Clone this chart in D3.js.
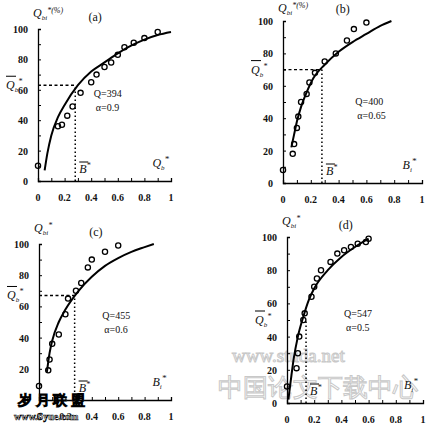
<!DOCTYPE html>
<html><head><meta charset="utf-8">
<script src="https://cdn.jsdelivr.net/npm/d3@7"></script>
<style>body{margin:0;background:#fff}text{font-family:"Liberation Serif",serif;fill:#111}</style>
</head><body>
<svg id="c" width="430" height="425"></svg>
<script>
var xTicks = [0, 0.2, 0.4, 0.6, 0.8, 1];
var xTickLabels = ["0", "0.2", "0.4", "0.6", "0.8", "1"];
var yTicks = [0, 20, 40, 60, 80, 100];

// observed points and fitted curves per panel
var ptsA = [[0,10],[0.15,36],[0.18,37],[0.22,43],[0.26,49],[0.32,58],[0.40,65],[0.44,70],[0.50,75],[0.55,78],[0.60,83],[0.65,88],[0.72,91],[0.80,94],[0.90,98]];
var fitA = [[0.05,7],[0.07,18],[0.1,30],[0.15,42],[0.2,50],[0.3,63],[0.4,72],[0.5,78],[0.6,84],[0.7,89],[0.8,93],[0.9,96],[1.0,98]];
var ptsB = [[0,8],[0.07,18],[0.08,24],[0.1,34],[0.11,41],[0.13,50],[0.17,55],[0.19,62],[0.23,68],[0.3,75],[0.38,80],[0.46,88],[0.51,95],[0.6,99]];
var fitB = [[0.06,22],[0.08,30],[0.1,38],[0.13,47],[0.17,56],[0.22,65],[0.3,73],[0.4,81],[0.5,87],[0.6,92],[0.7,97],[0.78,100]];
var ptsC = [[0,9],[0.07,19],[0.08,26],[0.1,36],[0.15,42],[0.2,55],[0.22,65],[0.28,70],[0.32,75],[0.37,85],[0.4,90],[0.5,95],[0.6,99]];
var fitC = [[0.06,18],[0.08,30],[0.1,38],[0.15,50],[0.2,58],[0.3,70],[0.4,79],[0.5,86],[0.6,91],[0.7,95],[0.8,98],[0.87,100]];
var ptsD = [[0,10],[0.07,21],[0.08,30],[0.09,40],[0.12,50],[0.13,54],[0.18,64],[0.2,70],[0.22,75],[0.25,80],[0.32,85],[0.37,90],[0.42,92],[0.47,94],[0.52,96],[0.58,97],[0.6,99]];
var fitD = [[0.01,2],[0.03,15],[0.05,27],[0.08,40],[0.12,52],[0.16,62],[0.2,69],[0.3,80],[0.4,88],[0.5,94],[0.6,99]];

var panels = [
  {tag:"(a)", x0:38, x1:171, y0:181, y1:29, pts:ptsA, fit:fitA, bx:0.28, qy:63, Q:"394", a:"0.9", xl:"Qb", yl:"Qbi*(%)", hz:true, tx:0.42, ty:55},
  {tag:"(b)", x0:283, x1:422, y0:183, y1:21, pts:ptsB, fit:fitB, bx:0.28, qy:70, Q:"400", a:"0.65", xl:"Bi", yl:"Qbi*(%)", hz:true, tx:0.52, ty:48},
  {tag:"(c)", x0:39, x1:171, y0:400, y1:244, pts:ptsC, fit:fitC, bx:0.27, qy:67, Q:"455", a:"0.6", xl:"Bi", yl:"Qbi*", hz:true, tx:0.48, ty:52},
  {tag:"(d)", x0:287, x1:423, y0:403, y1:237, pts:ptsD, fit:fitD, bx:0.14, qy:50, Q:"547", a:"0.5", xl:"Bi", yl:"Qbi*", hz:false, tx:0.42, ty:52}
];

var svg = d3.select("#c");

// watermarks
svg.append("text").attr("x", 232).attr("y", 362).attr("font-size", 19).attr("font-family", "DejaVu Sans Mono")
  .style("fill", "none").style("stroke", "#c8c8c8").attr("stroke-width", 1).text("www.studa.net");
svg.append("text").attr("x", 218).attr("y", 396).attr("font-size", 25).attr("font-family", "Noto Sans CJK SC")
  .style("fill", "none").style("stroke", "#c8c8c8").attr("stroke-width", 1).text("中国论文下载中心");

panels.forEach(function(p) {
  var x = d3.scaleLinear().domain([0, 1]).range([p.x0, p.x1]);
  var y = d3.scaleLinear().domain([0, 100]).range([p.y0, p.y1]);
  var g = svg.append("g");

  g.append("g").attr("transform", "translate(0," + p.y0 + ")")
    .call(d3.axisBottom(x).tickValues(d3.range(0, 1.01, 0.1)).tickSize(-3).tickFormat(""))
    .call(function(a){ a.select(".domain").attr("stroke-width", 1.3); });
  g.append("g").attr("transform", "translate(" + p.x0 + ",0)")
    .call(d3.axisLeft(y).tickValues(d3.range(0, 101, 10)).tickSize(-3).tickFormat(""))
    .call(function(a){ a.select(".domain").attr("stroke-width", 1.3); });

  g.selectAll(".xl").data(xTicks).enter().append("text")
    .attr("x", function(d){ return x(d); }).attr("y", p.y0 + 20)
    .attr("text-anchor", "middle").attr("font-size", 10).attr("font-weight", "bold")
    .text(function(d, i){ return xTickLabels[i]; });
  g.selectAll(".yl").data(yTicks).enter().append("text")
    .attr("x", p.x0 - 10).attr("y", function(d){ return y(d) + 4; })
    .attr("text-anchor", "end").attr("font-size", 10).attr("font-weight", "bold")
    .text(function(d){ return d; });

  // guide lines
  g.append("line").attr("x1", x(p.bx)).attr("x2", x(p.bx)).attr("y1", p.y0).attr("y2", y(p.qy))
    .attr("stroke", "#000").attr("stroke-width", 1.5).attr("stroke-dasharray", "1.5,2.5");
  if (p.hz) g.append("line").attr("x1", p.x0).attr("x2", x(p.bx)).attr("y1", y(p.qy)).attr("y2", y(p.qy))
    .attr("stroke", "#000").attr("stroke-width", 1.3).attr("stroke-dasharray", "3,2.5");

  g.append("path").datum(p.fit)
    .attr("d", d3.line().curve(d3.curveMonotoneX).x(function(d){ return x(d[0]); }).y(function(d){ return y(d[1]); }))
    .attr("fill", "none").attr("stroke", "#000").attr("stroke-width", 2);

  g.selectAll("circle").data(p.pts).enter().append("circle")
    .attr("cx", function(d){ return x(d[0]); }).attr("cy", function(d){ return y(d[1]); })
    .attr("r", 2.6).attr("fill", "none").attr("stroke", "#000").attr("stroke-width", 1.3);

  // labels
  g.append("text").attr("x", x(0.38)).attr("y", Math.max(p.y1 - 8, 12)).attr("font-size", 12).text(p.tag);
  var yl = g.append("text").attr("x", p.x0 - 5).attr("y", Math.max(p.y1 - 12, 12)).attr("font-size", 12).attr("font-style", "italic");
  yl.append("tspan").text("Q");
  yl.append("tspan").attr("font-size", 7).attr("dy", 3).text("bi");
  yl.append("tspan").attr("font-size", 8).attr("dy", -7).text(p.yl.slice(3));
  var qb = g.append("text").attr("x", p.x0 - 32).attr("y", y(p.qy) + 4).attr("font-size", 12).attr("font-style", "italic");
  qb.append("tspan").text("Q");
  qb.append("tspan").attr("font-size", 7).attr("dy", 3).text("b");
  qb.append("tspan").attr("font-size", 8).attr("dy", -8).text("*");
  g.append("line").attr("x1", p.x0 - 32).attr("x2", p.x0 - 22).attr("y1", y(p.qy) - 9).attr("y2", y(p.qy) - 9).attr("stroke", "#000");
  var bb = g.append("text").attr("x", x(p.bx) + 4).attr("y", p.y0 - 8).attr("font-size", 12).attr("font-style", "italic");
  bb.append("tspan").text("B");
  bb.append("tspan").attr("font-size", 8).attr("dy", -5).text("*");
  g.append("line").attr("x1", x(p.bx) + 4).attr("x2", x(p.bx) + 13).attr("y1", p.y0 - 19).attr("y2", p.y0 - 19).attr("stroke", "#000");
  var xl = g.append("text").attr("x", x(0.86)).attr("y", p.y0 - 14).attr("font-size", 12).attr("font-style", "italic");
  xl.append("tspan").text(p.xl[0]);
  xl.append("tspan").attr("font-size", 7).attr("dy", 3).text(p.xl.slice(1));
  xl.append("tspan").attr("font-size", 9).attr("dy", -8).text("*");
  g.append("text").attr("x", x(p.tx)).attr("y", y(p.ty)).attr("font-size", 10).text("Q=" + p.Q);
  g.append("text").attr("x", x(p.tx) + 2).attr("y", y(p.ty) + 14).attr("font-size", 10).text("\u03b1=" + p.a);
});

svg.append("text").attr("x", 18).attr("y", 405).attr("font-size", 14).attr("font-weight", "bold")
  .attr("font-family", "Noto Sans CJK SC").style("fill", "#fff").style("stroke", "#000").attr("stroke-width", 0.8).text("岁 月 联 盟");
svg.append("text").attr("x", 14).attr("y", 420).attr("font-size", 10).attr("font-weight", "bold")
  .attr("font-family", "DejaVu Sans Mono").style("fill", "#fff").style("stroke", "#000").attr("stroke-width", 0.6).text("www.Syue.com");
</script>
</body></html>
